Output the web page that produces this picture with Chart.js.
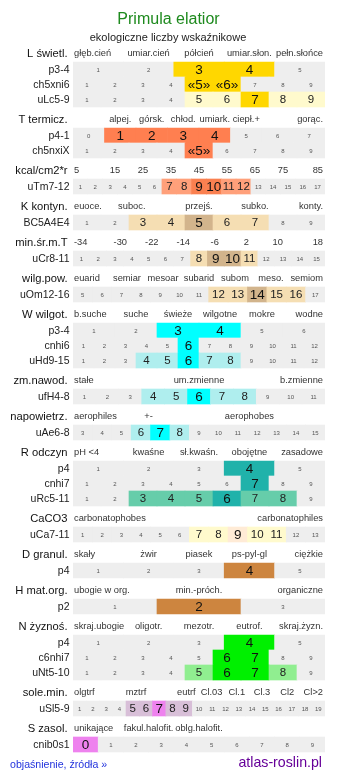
<!DOCTYPE html>
<html lang="pl">
<head>
<meta charset="utf-8">
<title>Primula elatior - ekologiczne liczby wskaźnikowe</title>
<script src="https://cdn.jsdelivr.net/npm/chart.js@4.4.1/dist/chart.umd.min.js"></script>
<style>
  html, body { margin: 0; padding: 0; background: #fff; }
  #wykres { display: block; }
</style>
</head>
<body>
<canvas id="wykres" width="337" height="781"></canvas>
<script>
// Dane
const tytul = 'Primula elatior';
const podtytul = 'ekologiczne liczby wskaźnikowe';

const sekcje = ['L świetl.', 'T termicz.', 'kcal/cm2*r', 'K kontyn.', 'min.śr.m.T', 'wilg.pow.', 'W wilgot.', 'zm.nawod.',
    'napowietrz.', 'R odczyn', 'CaCO3', 'D granul.', 'H mat.org.', 'N żyznoś.', 'sole.min.', 'S zasol.'];

// opisy nad wierszami, numer kolumny i liczba kolumn siatki
const opisy = [
    ['głęb.cień', 'umiar.cień', 'półcień', 'umiar.słon.', 'pełn.słońce'],
    ['alpej.', 'górsk.', 'chłod.', 'umiark.', 'ciepł.+', 'gorąc.'],
    ['5', '15', '25', '35', '45', '55', '65', '75', '85'],
    ['euoce.', 'suboc.', 'przejś.', 'subko.', 'konty.'],
    ['-34', '-30', '-22', '-14', '-6', '2', '10', '18'],
    ['euarid', 'semiar', 'mesoar', 'subarid', 'subom', 'meso.', 'semiom'],
    ['b.suche', 'suche', 'świeże', 'wilgotne', 'mokre', 'wodne'],
    ['stałe', 'um.zmienne', 'b.zmienne'],
    ['aerophiles', '+-', 'aerophobes'],
    ['pH <4', 'kwaśne', 'sł.kwaśn.', 'obojętne', 'zasadowe'],
    ['carbonatophobes', 'carbonatophiles'],
    ['skały', 'żwir', 'piasek', 'ps-pyl-gl', 'ciężkie'],
    ['ubogie w org.', 'min.-próch.', 'organiczne'],
    ['skraj.ubogie', 'oligotr.', 'mezotr.', 'eutrof.', 'skraj.żyzn.'],
    ['olgtrf', 'mztrf', 'eutrf', 'Cl.03', 'Cl.1', 'Cl.3', 'Cl2', 'Cl>2'],
    ['unikające', 'fakul.halofit.', 'oblg.halofit.']
];
const opisyKolumny = [
    [0, 1, 2, 3, 4], [1, 2, 3, 4, 5, 7], [0, 1, 2, 3, 4, 5, 6, 7, 8], [0, 1.6, 4, 6, 8], [0, 1, 2, 3, 4, 5, 6, 7],
    [0, 1, 2, 3, 4, 5, 6], [0, 1, 2, 3, 4, 5], [0, 1, 2], [0, 1, 3], [0, 1, 2, 3, 4], [0, 1], [0, 1, 2, 3, 4],
    [0, 1, 2], [0, 1, 2, 3, 4], [0, 2, 4, 5, 6, 7, 8, 9], [0, 1, 2]
];
const opisySiatka = [5, 8, 9, 9, 8, 7, 6, 3, 5, 5, 2, 5, 3, 5, 10, 5];

// wiersze skal
const wiersze = ['p3-4', 'ch5xni6', 'uLc5-9', 'p4-1', 'ch5nxiX', 'uTm7-12', 'BC5A4E4', 'uCr8-11', 'uOm12-16',
    'p3-4', 'cnhi6', 'uHd9-15', 'ufH4-8', 'uAe6-8', 'p4', 'cnhi7', 'uRc5-11', 'uCa7-11', 'p4', 'p2',
    'p4', 'c6nhi7', 'uNt5-10', 'uSl5-9', 'cnib0s1'];
const wierszSekcja = [0, 0, 0, 1, 1, 2, 3, 4, 5, 6, 6, 6, 7, 8, 9, 9, 9, 10, 11, 12, 13, 13, 13, 14, 15];
const skalaOd = [1, 1, 1, 0, 1, 1, 1, 1, 5, 1, 1, 1, 1, 3, 1, 1, 1, 1, 1, 1, 1, 1, 1, 1, 0];
const skalaDo = [5, 9, 9, 7, 9, 17, 9, 15, 17, 6, 12, 12, 11, 15, 5, 9, 9, 13, 5, 3, 5, 9, 9, 19, 9];
const wartosciGlowne = [[3, 4], [5, 6], [7], [1, 2, 3, 4], [5], [9, 10], [5], [9, 10], [14], [3, 4], [6], [6],
    [6], [7], [4], [7], [6], [9], [4], [2], [4], [6, 7], [6, 7], [7], [0]];
const wartosciBoczne = [[], [], [5, 6, 8, 9], [], [], [7, 8, 11, 12], [3, 4, 6, 7], [8, 11], [12, 13, 15, 16], [], [],
    [4, 5, 7, 8], [4, 5, 7, 8], [6, 8], [], [], [3, 4, 5, 7, 8], [7, 8, 10, 11], [], [], [], [], [5, 8], [5, 6, 8, 9], []];
const wierszePrzyblizone = [1, 4]; // wartości w «»

// Kolory
const kolorTla = '#EEEEEE';
const koloryGlowne = ['#FFD700', '#FF7F50', '#FA8050', '#D2B48C', '#D2B48C', '#D2B48C', '#00FFFF', '#00FFFF',
    '#00FFFF', '#20B2AA', '#FFEBD6', '#CD853F', '#CD853F', '#00F000', '#EE82EE', '#EE82EE'];
const koloryBoczne = ['#FFFACD', '#FFA07A', '#FFA07A', '#F5DEB3', '#F5DEB3', '#F5DEB3', '#AFEEEE', '#AFEEEE',
    '#AFEEEE', '#66CDAA', '#FFFACD', '#CD853F', '#CD853F', '#90EE90', '#D8BFD8', '#D8BFD8'];
const czcionka = '"Liberation Sans", Arial, sans-serif';

// uklad pionowy
const gora = 62, wysWiersza = 15, wysNaglowka = 21;
const srodekWiersza = (w) => gora + wysWiersza * w + wysNaglowka * wierszSekcja[w] + wysWiersza / 2;

// komórki
const komorki = [], kolory = [], teksty = [], poziomy = [];
wiersze.forEach((nazwa, w) => {
    const od = skalaOd[w], n = skalaDo[w] - od + 1, s = wierszSekcja[w];
    for (let v = od; v <= skalaDo[w]; v++) {
        const k = v - od;
        komorki.push({ x: [k / n, (k + 1) / n], y: srodekWiersza(w) });
        let p = 0;
        if (wartosciGlowne[w].includes(v)) p = 2;
        else if (wartosciBoczne[w].includes(v)) p = 1;
        poziomy.push(p);
        kolory.push(p == 2 ? koloryGlowne[s] : p == 1 ? koloryBoczne[s] : kolorTla);
        teksty.push(p == 2 && wierszePrzyblizone.includes(w) ? '«' + v + '»' : String(v));
    }
});

const opisyPlugin = {
    id: 'opisy',
    afterDatasetsDraw(chart) {
        const ctx = chart.ctx, sx = chart.scales.x, area = chart.chartArea;
        ctx.save();
        ctx.textBaseline = 'middle';

        // liczby w komórkach
        chart.getDatasetMeta(0).data.forEach((bar, i) => {
            const p = bar.getProps(['x', 'y', 'base'], true);
            const xc = (p.x + p.base) / 2;
            ctx.textAlign = 'center';
            if (poziomy[i] == 2) { ctx.font = '13.5px ' + czcionka; ctx.fillStyle = '#111'; }
            else if (poziomy[i] == 1) { ctx.font = '11.5px ' + czcionka; ctx.fillStyle = '#222'; }
            else { ctx.font = '6px ' + czcionka; ctx.fillStyle = '#555'; }
            ctx.fillText(teksty[i], xc, p.y + 0.5);
        });

        // nazwy wierszy
        ctx.font = '10.5px ' + czcionka;
        ctx.fillStyle = '#222';
        ctx.textAlign = 'right';
        wiersze.forEach((nazwa, w) => ctx.fillText(nazwa, 69.5, srodekWiersza(w) + 0.5));

        // nagłówki sekcji i opisy kolumn
        sekcje.forEach((nazwa, s) => {
            const w0 = wierszSekcja.indexOf(s);
            const yh = srodekWiersza(w0) - wysWiersza / 2 - 8.5;
            ctx.font = '11.2px ' + czcionka;
            ctx.fillStyle = '#111';
            ctx.textAlign = 'right';
            ctx.fillText(nazwa, 67.5, yh);
            ctx.font = '9.3px ' + czcionka;
            ctx.fillStyle = '#333';
            const n = opisySiatka[s];
            opisy[s].forEach((t, j) => {
                const kol = opisyKolumny[s][j];
                if (kol == 0) { ctx.textAlign = 'left'; ctx.fillText(t, area.left + 1, yh); }
                else if (kol == n - 1) { ctx.textAlign = 'right'; ctx.fillText(t, area.right - 2, yh); }
                else { ctx.textAlign = 'center'; ctx.fillText(t, sx.getPixelForValue((kol + 0.5) / n), yh); }
            });
        });

        // tytuł
        ctx.textAlign = 'center';
        ctx.font = '16px ' + czcionka;
        ctx.fillStyle = '#1E8A1E';
        ctx.fillText(tytul, 168.5, 20);
        ctx.font = '11px ' + czcionka;
        ctx.fillStyle = '#222';
        ctx.fillText(podtytul, 168, 38);

        // stopka
        ctx.textAlign = 'left';
        ctx.font = '10.6px ' + czcionka;
        ctx.fillStyle = '#2233DD';
        ctx.fillText('objaśnienie, źródła »', 10, 765);
        ctx.textAlign = 'right';
        ctx.font = '14.2px ' + czcionka;
        ctx.fillStyle = '#660099';
        ctx.fillText('atlas-roslin.pl', 322, 763);
        ctx.restore();
    }
};

// Crear wykres
const wykres = new Chart(document.getElementById('wykres'), {
    type: 'bar',
    data: {
        datasets: [{
            label: 'skale',
            data: komorki,
            backgroundColor: kolory,
            borderWidth: 0,
            barThickness: wysWiersza
        }]
    },
    options: {
        indexAxis: 'y',
        responsive: false,
        animation: false,
        events: [],
        devicePixelRatio: 1,
        layout: { padding: { left: 73, right: 12, top: 0, bottom: 0 } },
        scales: {
            x: { type: 'linear', min: 0, max: 1, display: false, grid: { display: false } },
            y: { type: 'linear', min: 0, max: 781, reverse: true, display: false, offset: false, grid: { display: false, offset: false } }
        },
        plugins: { legend: { display: false }, tooltip: { enabled: false } }
    },
    plugins: [opisyPlugin]
});
</script>
</body>
</html>
